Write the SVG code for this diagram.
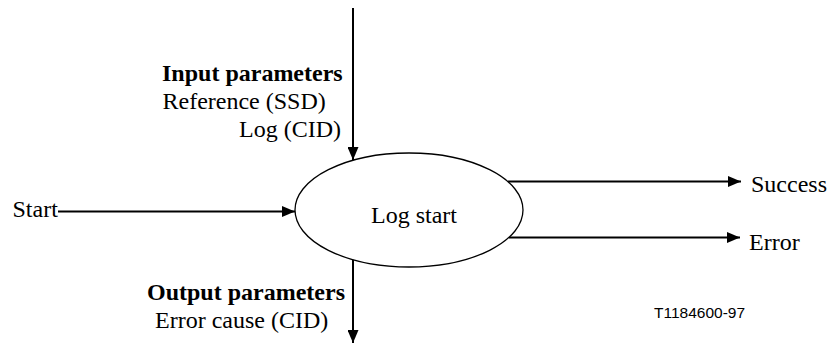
<svg xmlns="http://www.w3.org/2000/svg" width="830" height="345" viewBox="0 0 830 345">
  <style>
    .t { font-family: "Liberation Serif", "Times New Roman", serif; font-size: 24px; fill: #000; }
    .b { font-weight: bold; }
    .id { font-family: "Liberation Sans", Arial, sans-serif; font-size: 15.5px; fill: #000; }
    .conn { stroke: #000; stroke-width: 2; fill: none; marker-end: url(#arrow); }
    .node { fill: #fff; stroke: #000; stroke-width: 1.3; }
  </style>
  <defs>
    <marker id="arrow" markerUnits="userSpaceOnUse" markerWidth="13" markerHeight="11" refX="13" refY="5.5" orient="auto">
      <path d="M0,0 L13,5.5 L0,11 z" fill="#000"/>
    </marker>
  </defs>
  <rect width="830" height="345" fill="#fff"/>

  <g id="connectors">
    <line class="conn" x1="353" y1="8" x2="353" y2="160"/>
    <line class="conn" x1="353" y1="259" x2="353" y2="343"/>
    <line class="conn" x1="58" y1="211.5" x2="295" y2="211.5"/>
    <line class="conn" x1="508" y1="181.5" x2="741" y2="181.5"/>
    <line class="conn" x1="509" y1="237.5" x2="740" y2="237.5"/>
  </g>

  <g id="log-start">
    <ellipse class="node" cx="409" cy="210" rx="114" ry="57"/>
    <text class="t" x="371" y="223">Log start</text>
  </g>

  <g id="input-parameters">
    <text class="t b" x="162" y="81">Input parameters</text>
    <text class="t" x="162.5" y="109">Reference (SSD)</text>
    <text class="t" x="239" y="137">Log (CID)</text>
  </g>

  <g id="output-parameters">
    <text class="t b" x="147" y="300">Output parameters</text>
    <text class="t" x="155" y="328">Error cause (CID)</text>
  </g>

  <g id="start">
    <text class="t" x="12.5" y="217">Start</text>
  </g>

  <g id="success">
    <text class="t" x="751" y="191.5">Success</text>
  </g>

  <g id="error">
    <text class="t" x="749" y="250">Error</text>
  </g>

  <g id="figure-id">
    <text class="id" x="654" y="318">T1184600-97</text>
  </g>
</svg>
